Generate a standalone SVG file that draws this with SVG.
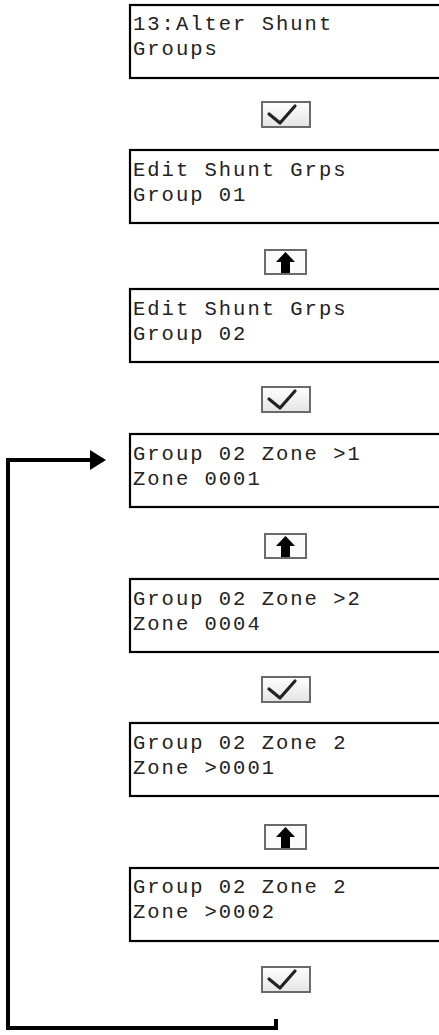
<svg xmlns="http://www.w3.org/2000/svg" width="439" height="1035" viewBox="0 0 439 1035">
<style>
.box{fill:#fff;stroke:#000;stroke-width:2.2}
.t{font-family:"Liberation Mono","Courier New",monospace;font-size:20.5px;letter-spacing:2px;fill:#222}
.ib{stroke:#6a6a6a;stroke-width:2}
.ck{fill:none;stroke:#222;stroke-width:3.2;stroke-linecap:round;stroke-linejoin:round}
.conn{fill:none;stroke:#000;stroke-width:4;stroke-linejoin:miter}
</style>
<defs>
<linearGradient id="cg" x1="0" y1="0" x2="0" y2="1">
<stop offset="0" stop-color="#ffffff"/>
<stop offset="1" stop-color="#e4e4e4"/>
</linearGradient>
<marker id="ah" markerWidth="16" markerHeight="20" refX="0" refY="10" orient="auto" markerUnits="userSpaceOnUse">
<path d="M0,0 L16,10 L0,20 z" fill="#000"/>
</marker>
<g id="chk">
<rect class="ib" x="1" y="1" width="48" height="25" fill="url(#cg)"/>
<polyline class="ck" points="8,13 19,22 34,5"/>
</g>
<g id="up">
<rect class="ib" x="1" y="1" width="41" height="24" fill="#fbfbfb"/>
<path d="M21.5,3 L31,13 L26,13 L26,24 L17,24 L17,13 L12,13 z" fill="#000"/>
</g>
</defs>

<g id="connectors">
<path class="conn" d="M276,1019 V1028 H8 V460 H90" marker-end="url(#ah)"/>
</g>

<g id="n1"><rect class="box" x="130" y="5" width="320" height="73"/><text class="t" x="133" y="30">13:Alter Shunt</text><text class="t" x="133" y="55">Groups</text></g>
<g id="k1"><use href="#chk" x="261" y="101"/></g>
<g id="n2"><rect class="box" x="130" y="150" width="320" height="73"/><text class="t" x="133" y="176">Edit Shunt Grps</text><text class="t" x="133" y="201">Group 01</text></g>
<g id="u1"><use href="#up" x="264" y="249"/></g>
<g id="n3"><rect class="box" x="130" y="289" width="320" height="73"/><text class="t" x="133" y="315">Edit Shunt Grps</text><text class="t" x="133" y="340">Group 02</text></g>
<g id="k2"><use href="#chk" x="261" y="386"/></g>
<g id="n4"><rect class="box" x="130" y="434" width="320" height="73"/><text class="t" x="133" y="460">Group 02 Zone &gt;1</text><text class="t" x="133" y="485">Zone 0001</text></g>
<g id="u2"><use href="#up" x="264" y="533"/></g>
<g id="n5"><rect class="box" x="130" y="579" width="320" height="73"/><text class="t" x="133" y="605">Group 02 Zone &gt;2</text><text class="t" x="133" y="630">Zone 0004</text></g>
<g id="k3"><use href="#chk" x="261" y="676"/></g>
<g id="n6"><rect class="box" x="130" y="723" width="320" height="73"/><text class="t" x="133" y="749">Group 02 Zone 2</text><text class="t" x="133" y="774">Zone &gt;0001</text></g>
<g id="u3"><use href="#up" x="264" y="824"/></g>
<g id="n7"><rect class="box" x="130" y="868" width="320" height="73"/><text class="t" x="133" y="893">Group 02 Zone 2</text><text class="t" x="133" y="918">Zone &gt;0002</text></g>
<g id="k4"><use href="#chk" x="261" y="966"/></g>
</svg>
